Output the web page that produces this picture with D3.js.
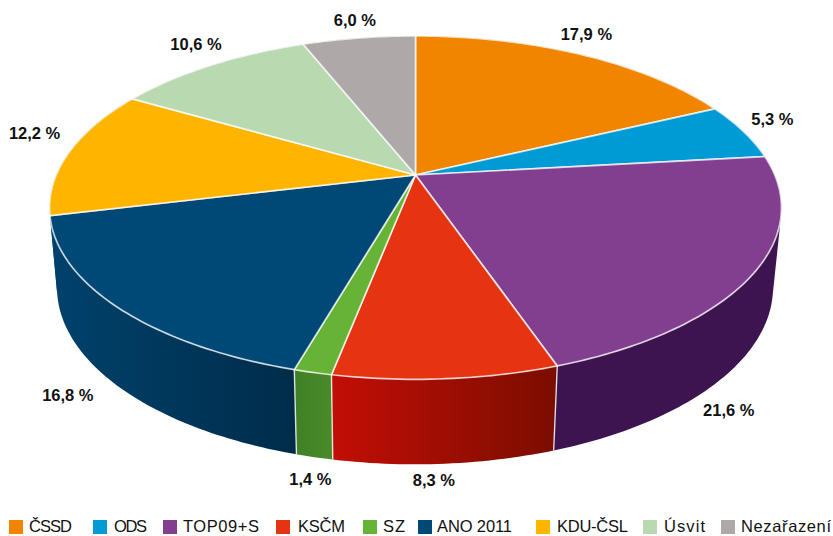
<!DOCTYPE html>
<html>
<head>
<meta charset="utf-8">
<script src="https://cdn.jsdelivr.net/npm/d3@7/dist/d3.min.js"></script>
<style>
html, body { margin: 0; padding: 0; background: #fff; }
svg { display: block; }
text { font-family: "Liberation Sans", sans-serif; fill: #111; }
.pct { font-size: 16.5px; font-weight: 700; text-anchor: middle; dominant-baseline: central; }
.leg { font-size: 16.5px; }
</style>
</head>
<body>
<div id="chart"></div>
<script>
const parties = ["ČSSD", "ODS", "TOP09+S", "KSČM", "SZ", "ANO 2011", "KDU-ČSL", "Úsvit", "Nezařazení"];
const shares = [17.9, 5.3, 21.6, 8.3, 1.4, 16.8, 12.2, 10.6, 6.0];

const topColors = ["#f28500", "#009ad4", "#823f90", "#e63312", "#66b336", "#004876", "#ffb400", "#b9d9b0", "#aea8a8"];
// KDU-ČSL wall only shows as a sliver next to ANO, the reference has it in ANO's colour
const sideLeft = ["#a85c00", "#006b94", "#3d1450", "#c20e06", "#3f8026", "#00426c", "#00426c", "#81987b", "#7a7676"];
const sideRight = ["#a85c00", "#006b94", "#3d1450", "#7a0d00", "#4a8a2a", "#002c4a", "#00426c", "#81987b", "#7a7676"];

// layout only
const legendX = [9, 93, 163, 276, 363, 418, 536, 643, 721];
const legendGap = [20, 21, 20, 22, 20, 19, 21, 21, 20];
const legendWidth = [43, 33, 76, 47, 22, 75, 71, 41, 90];
const labelRim = ["top", "top", "bottom", "bottom", "bottom", "bottom", "top", "top", "top"];
const labelNudge = [[6, -20], [29, -12], [-17, 55], [-11, 16], [-4, 22], [-55, 5], [-35, -19], [-15, -21], [-4, -18]];

const width = 833, height = 536;

// perspective of the disc: k is the foreshortening, rims share it
const k = 0.19;
const rims = {
    top: { x0: 415.5, y0: 175, a: 359.3, b: 165.5 },
    bottom: { x0: 415, y0: 253.8, a: 351.5, b: 170.5 }
};

function project(angle, rim) {
    const u = Math.sin(angle), v = -Math.cos(angle);
    const den = 1 - k * v;
    return [rim.x0 + rim.a * u / den, rim.y0 + rim.b * v / den];
}

function samples(d) {
    const n = Math.max(2, Math.ceil((d.endAngle - d.startAngle) / (Math.PI / 180)));
    return d3.range(n + 1).map(i => d.startAngle + (d.endAngle - d.startAngle) * i / n);
}

const color = d3.scaleOrdinal(parties, topColors);
const legendPos = d3.scaleOrdinal(parties, legendX);

const pie = d3.pie().value(d => d.share).sort(null);
const slices = pie(parties.map((p, i) => ({ party: p, share: shares[i], index: i })));

const svg = d3.select("#chart").append("svg")
    .attr("width", width)
    .attr("height", height);

const defs = svg.append("defs");
const line = d3.line();

// side wall, one quad per sampled step so the outline stays tangent at the edges
function wallPath(d) {
    const ang = samples(d);
    let s = "";
    for (let i = 0; i < ang.length - 1; i++) {
        const quad = [project(ang[i], rims.top), project(ang[i + 1], rims.top),
            project(ang[i + 1], rims.bottom), project(ang[i], rims.bottom)];
        // same winding for all quads, or the overlaps at the silhouette cancel out
        if (d3.polygonArea(quad) < 0) quad.reverse();
        s += line(quad) + "Z";
    }
    return s;
}

function topPath(d) {
    return line([[rims.top.x0, rims.top.y0], ...samples(d).map(a => project(a, rims.top))]) + "Z";
}

slices.forEach(d => {
    const xs = samples(d).map(a => project(a, rims.top)[0]);
    const g = defs.append("linearGradient")
        .attr("id", "side" + d.data.index)
        .attr("gradientUnits", "userSpaceOnUse")
        .attr("x1", d3.min(xs)).attr("x2", d3.max(xs))
        .attr("y1", 0).attr("y2", 0);
    g.append("stop").attr("offset", 0).attr("stop-color", sideLeft[d.data.index]);
    g.append("stop").attr("offset", 1).attr("stop-color", sideRight[d.data.index]);
});

svg.append("g").selectAll("path")
    .data(slices)
    .join("path")
    .attr("d", wallPath)
    .attr("fill", d => "url(#side" + d.data.index + ")");

// light seams between the walls, front slices only
svg.append("g").selectAll("line")
    .data(slices.filter(d => d.startAngle > Math.PI * 0.6 && d.startAngle < Math.PI * 1.2))
    .join("line")
    .attr("x1", d => project(d.startAngle, rims.top)[0])
    .attr("y1", d => project(d.startAngle, rims.top)[1])
    .attr("x2", d => project(d.startAngle, rims.bottom)[0])
    .attr("y2", d => project(d.startAngle, rims.bottom)[1])
    .attr("stroke", "#fff")
    .attr("stroke-opacity", 0.8)
    .attr("stroke-width", 1.4);

svg.append("g").selectAll("path")
    .data(slices)
    .join("path")
    .attr("d", topPath)
    .attr("fill", d => color(d.data.party))
    .attr("stroke", "#fff")
    .attr("stroke-opacity", 0.75)
    .attr("stroke-width", 1.7)
    .attr("stroke-linejoin", "round");

const fmt = v => v.toFixed(1).replace(".", ",") + " %";

svg.append("g").selectAll("text")
    .data(slices)
    .join("text")
    .attr("class", "pct")
    .attr("x", d => {
        const i = d.data.index;
        return project((d.startAngle + d.endAngle) / 2, rims[labelRim[i]])[0] + labelNudge[i][0];
    })
    .attr("y", d => {
        const i = d.data.index;
        return project((d.startAngle + d.endAngle) / 2, rims[labelRim[i]])[1] + labelNudge[i][1];
    })
    .text(d => fmt(d.data.share));

const legend = svg.append("g").selectAll("g")
    .data(parties)
    .join("g")
    .attr("transform", d => "translate(" + legendPos(d) + ",520)");

legend.append("rect")
    .attr("width", 14)
    .attr("height", 14)
    .attr("fill", d => color(d));

legend.append("text")
    .attr("class", "leg")
    .attr("x", (d, i) => legendGap[i])
    .attr("y", 12)
    .attr("textLength", (d, i) => legendWidth[i])
    .text(d => d);
</script>
</body>
</html>
